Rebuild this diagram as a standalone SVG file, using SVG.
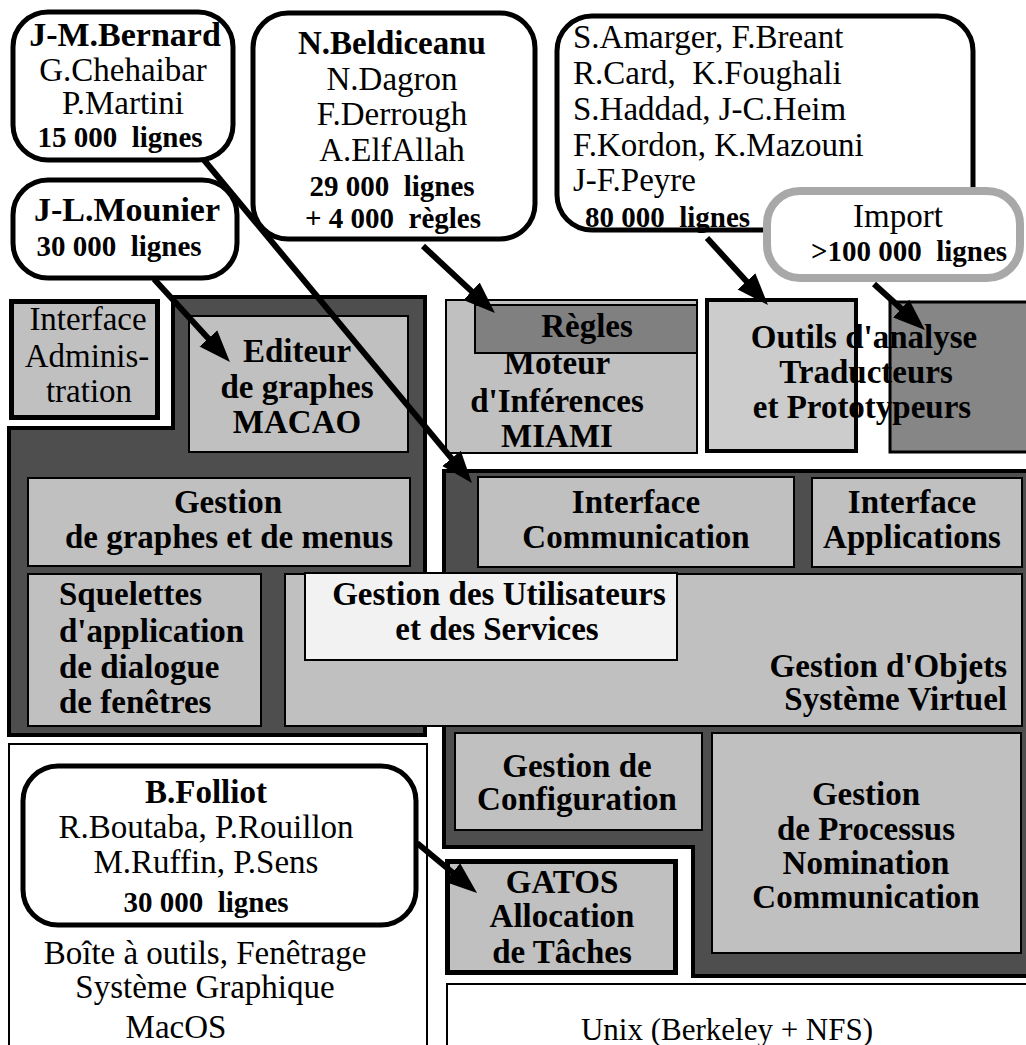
<svg xmlns="http://www.w3.org/2000/svg" width="1026" height="1045" viewBox="0 0 1026 1045">
  <style>
    .panel { fill: #4e4e4e; stroke: #000; stroke-width: 4; }
    .box { fill: #c0c0c0; stroke: #000; stroke-width: 2; }
    .heavy { stroke-width: 5; }
    .bubble { fill: #fff; stroke: #000; stroke-width: 5; }
    .plain { fill: #fff; stroke: #000; stroke-width: 2; }
    .t { font-family: "Liberation Serif", "Times New Roman", serif; font-size: 33px; text-anchor: middle; fill: #000; }
    .b { font-weight: bold; }
    .big { font-size: 34px; }
    .n { font-size: 29px; font-weight: bold; }
    .l { text-anchor: start; }
    .r { text-anchor: end; }
    .arrow { stroke: #000; stroke-width: 6; fill: none; marker-end: url(#head); }
  </style>
  <defs>
    <marker id="head" markerUnits="userSpaceOnUse" markerWidth="34" markerHeight="26" refX="2" refY="0" viewBox="0 -13 34 26" orient="auto">
      <path d="M0,-12 L32,0 L0,12 Z" fill="#000"/>
    </marker>
  </defs>
  <rect width="1026" height="1045" fill="#fff"/>

  <!-- Left layer: graph editor stack -->
  <g id="left-panel">
    <path class="panel" d="M173,297 H425 V735 H9 V428 H173 Z"/>
  </g>
  <g id="interface-administration">
    <rect class="box heavy" x="11.5" y="301.5" width="146" height="116"/>
    <text class="t" x="88" y="330">Interface</text>
    <text class="t" x="87" y="367">Adminis-</text>
    <text class="t" x="89" y="402">tration</text>
  </g>
  <g id="editeur">
    <rect class="box" x="189" y="316" width="219" height="136"/>
    <text class="t b" x="297" y="362">Editeur</text>
    <text class="t b" x="297" y="398">de graphes</text>
    <text class="t b" x="297" y="433">MACAO</text>
  </g>
  <g id="gestion-graphes">
    <rect class="box" x="28" y="478" width="382" height="88"/>
    <text class="t b" x="228" y="513">Gestion</text>
    <text class="t b" x="229" y="548">de graphes et de menus</text>
  </g>
  <g id="squelettes">
    <rect class="box" x="28" y="574" width="233" height="152"/>
    <text class="t b l" x="59" y="605">Squelettes</text>
    <text class="t b l" x="59" y="642">d'application</text>
    <text class="t b l" x="59" y="678">de dialogue</text>
    <text class="t b l" x="59" y="713">de fenêtres</text>
  </g>

  <!-- Upper right: inference engine and tools -->
  <g id="moteur">
    <rect class="box" x="446" y="300" width="251" height="153" stroke-width="4"/>
    <rect x="475" y="305" width="222" height="48" fill="#808080" stroke="#000" stroke-width="2"/>
    <text class="t b" x="587" y="337">Règles</text>
    <text class="t b" x="557" y="374">Moteur</text>
    <text class="t b" x="557" y="412">d'Inférences</text>
    <text class="t b" x="557" y="447">MIAMI</text>
  </g>
  <g id="outils">
    <rect x="707" y="300" width="149" height="151" fill="#cccccc" stroke="#000" stroke-width="4"/>
    <rect x="890" y="302" width="140" height="150" fill="#868686" stroke="#000" stroke-width="3"/>
    <text class="t b" x="864" y="348">Outils d'analyse</text>
    <text class="t b" x="866" y="383">Traducteurs</text>
    <text class="t b" x="862" y="418">et Prototypeurs</text>
  </g>

  <!-- Right layer: distributed system -->
  <g id="right-panel">
    <path class="panel" d="M444,471 H1032 V976 H693 V847 H444 Z"/>
  </g>
  <g id="interface-communication">
    <rect class="box" x="478" y="477" width="316" height="90"/>
    <text class="t b" x="636" y="513">Interface</text>
    <text class="t b" x="636" y="548">Communication</text>
  </g>
  <g id="interface-applications">
    <rect class="box" x="812" y="478" width="210" height="89"/>
    <text class="t b" x="912" y="513">Interface</text>
    <text class="t b" x="912" y="548">Applications</text>
  </g>
  <g id="gestion-objets">
    <rect class="box" x="285" y="574" width="737" height="152"/>
    <text class="t b r" x="1007" y="677">Gestion d'Objets</text>
    <text class="t b r" x="1007" y="710">Système Virtuel</text>
  </g>
  <g id="gestion-utilisateurs">
    <rect x="305" y="573" width="372" height="87" fill="#f2f2f2" stroke="#000" stroke-width="2"/>
    <text class="t b" x="499" y="605">Gestion des Utilisateurs</text>
    <text class="t b" x="497" y="640">et des Services</text>
  </g>
  <g id="gestion-configuration">
    <rect class="box" x="455" y="733" width="247" height="97"/>
    <text class="t b" x="577" y="777">Gestion de</text>
    <text class="t b" x="577" y="810">Configuration</text>
  </g>
  <g id="gestion-processus">
    <rect class="box" x="712" y="733" width="309" height="220"/>
    <text class="t b" x="866" y="805">Gestion</text>
    <text class="t b" x="866" y="840">de Processus</text>
    <text class="t b" x="866" y="874">Nomination</text>
    <text class="t b" x="866" y="908">Communication</text>
  </g>
  <g id="gatos">
    <rect class="box heavy" x="447.5" y="861.5" width="228" height="111"/>
    <text class="t b" x="562" y="893">GATOS</text>
    <text class="t b" x="562" y="927">Allocation</text>
    <text class="t b" x="562" y="963">de Tâches</text>
  </g>

  <!-- Base systems -->
  <g id="macos">
    <rect class="plain" x="9" y="744" width="418" height="320"/>
    <text class="t" x="205" y="964">Boîte à outils, Fenêtrage</text>
    <text class="t" x="205" y="998">Système Graphique</text>
    <text class="t" x="176" y="1038">MacOS</text>
  </g>
  <g id="unix">
    <rect class="plain" x="447" y="984" width="600" height="100"/>
    <text class="t" x="727" y="1040" style="font-size:31px">Unix (Berkeley + NFS)</text>
  </g>

  <!-- Team bubbles -->
  <g id="bernard">
    <rect class="bubble" x="13" y="12" width="220" height="148" rx="35"/>
    <text class="t b big" x="125" y="46">J-M.Bernard</text>
    <text class="t" x="123" y="81">G.Chehaibar</text>
    <text class="t" x="123" y="114">P.Martini</text>
    <text class="t n" x="120" y="147" xml:space="preserve">15 000  lignes</text>
  </g>
  <g id="mounier">
    <rect class="bubble" x="13" y="180" width="224" height="98" rx="35"/>
    <text class="t b big" x="127" y="221">J-L.Mounier</text>
    <text class="t n" x="119" y="256" xml:space="preserve">30 000  lignes</text>
  </g>
  <g id="beldiceanu">
    <rect class="bubble" x="253" y="13" width="282" height="226" rx="35"/>
    <text class="t b" x="392" y="54">N.Beldiceanu</text>
    <text class="t" x="392" y="90">N.Dagron</text>
    <text class="t" x="392" y="125">F.Derrough</text>
    <text class="t" x="392" y="161">A.ElfAllah</text>
    <text class="t n" x="392" y="196" xml:space="preserve">29 000  lignes</text>
    <text class="t n" x="393" y="228" xml:space="preserve">+ 4 000  règles</text>
  </g>
  <g id="amarger">
    <rect class="bubble" x="557" y="16" width="416" height="214" rx="35"/>
    <text class="t l" x="573" y="48">S.Amarger, F.Breant</text>
    <text class="t l" x="573" y="84" xml:space="preserve">R.Card,  K.Foughali</text>
    <text class="t l" x="573" y="120">S.Haddad, J-C.Heim</text>
    <text class="t l" x="573" y="156">F.Kordon, K.Mazouni</text>
    <text class="t l" x="573" y="191">J-F.Peyre</text>
    <text class="t n l" x="585" y="227" xml:space="preserve">80 000  lignes</text>
  </g>
  <g id="import">
    <rect x="767" y="191" width="253" height="87" rx="33" fill="#fff" stroke="#a8a8a8" stroke-width="8"/>
    <text class="t" x="898" y="227">Import</text>
    <text class="t n" x="909" y="261" xml:space="preserve">&gt;100 000  lignes</text>
  </g>
  <g id="folliot">
    <rect class="bubble" x="23" y="766" width="393" height="159" rx="35"/>
    <text class="t b" x="206" y="803">B.Folliot</text>
    <text class="t" x="206" y="838">R.Boutaba, P.Rouillon</text>
    <text class="t" x="206" y="873">M.Ruffin, P.Sens</text>
    <text class="t n" x="206" y="912" xml:space="preserve">30 000  lignes</text>
  </g>

  <!-- Connectors -->
  <g id="connectors">
    <line class="arrow" x1="204" y1="160" x2="452.8" y2="459.9"/>
    <line class="arrow" x1="154" y1="279" x2="209.7" y2="339.9"/>
    <line class="arrow" x1="423" y1="246" x2="473" y2="292.6"/>
    <line class="arrow" x1="707" y1="238" x2="747.8" y2="282.8"/>
    <line class="arrow" x1="874" y1="284" x2="902.7" y2="309.9"/>
    <line class="arrow" x1="417" y1="843" x2="454" y2="873.8"/>
  </g>
</svg>
